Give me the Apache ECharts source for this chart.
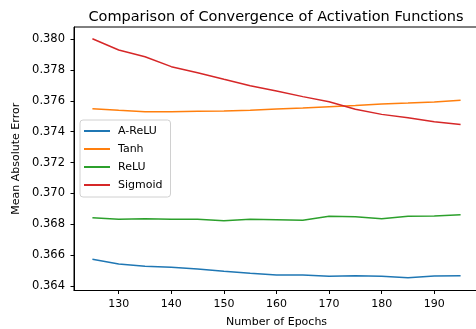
<!DOCTYPE html>
<html>
<head>
<meta charset="utf-8">
<script src="https://cdn.jsdelivr.net/npm/echarts@6/dist/echarts.min.js"></script>
<style>
  html, body { margin: 0; padding: 0; background: #fff; }
  #main { width: 476px; height: 329px; }
</style>
</head>
<body>
<div id="main"></div>
<script>
// epochs on the x axis
var epochs = [125, 130, 135, 140, 145, 150, 155, 160, 165, 170, 175, 180, 185, 190, 195];
// mean absolute error per activation
var aRelu = [0.36573, 0.36543, 0.36528, 0.36521, 0.36510, 0.36495, 0.36482, 0.36472, 0.36471, 0.36463, 0.36467, 0.36463, 0.36454, 0.36465, 0.36467];
var tanh = [0.37549, 0.37538, 0.37529, 0.37529, 0.37532, 0.37534, 0.37539, 0.37547, 0.37554, 0.37562, 0.37570, 0.37579, 0.37585, 0.37592, 0.37603];
var relu = [0.36843, 0.36832, 0.36836, 0.36832, 0.36832, 0.36823, 0.36832, 0.36830, 0.36826, 0.36852, 0.36848, 0.36836, 0.36852, 0.36854, 0.36862];
var sigmoid = [0.38002, 0.37929, 0.37885, 0.37821, 0.37782, 0.37739, 0.37698, 0.37663, 0.37627, 0.37594, 0.37545, 0.37512, 0.37490, 0.37464, 0.37447];
var names = ['A-ReLU', 'Tanh', 'ReLU', 'Sigmoid'];
var colors = ['#1f77b4', '#ff7f0e', '#2ca02c', '#d62728'];
var xTicks = [130, 140, 150, 160, 170, 180, 190];
var yTicks = [0.364, 0.366, 0.368, 0.370, 0.372, 0.374, 0.376, 0.378, 0.380];

function pairs(vals) {
  return vals.map(function (v, i) { return [epochs[i], v]; });
}

var font = 'DejaVu Sans';
var chart = echarts.init(document.getElementById('main'));
chart.setOption({
  animation: false,
  color: colors,
  textStyle: { fontFamily: font },
  title: {
    text: 'Comparison of Convergence of Activation Functions',
    left: 271, top: 5,
    textAlign: 'center',
    textStyle: { fontFamily: font, fontSize: 14.5, fontWeight: 'normal', color: '#000' }
  },
  grid: {
    left: 74, top: 27, width: 405, height: 263.5,
    outerBoundsMode: 'none',
    containLabel: false,
    show: true, borderColor: '#000', borderWidth: 1
  },
  legend: {
    data: names,
    orient: 'vertical',
    left: 80, top: 120,
    icon: 'rect',
    itemWidth: 26, itemHeight: 2,
    itemGap: 6,
    padding: [5, 8, 6, 4],
    borderColor: '#d0d0d0', borderWidth: 1, borderRadius: 3,
    backgroundColor: 'rgba(255,255,255,0.8)',
    textStyle: { fontFamily: font, fontSize: 11, color: '#000', lineHeight: 12, padding: [0, 0, 0, 3] }
  },
  xAxis: {
    type: 'value',
    min: 121.5, max: 198.5,
    name: 'Number of Epochs',
    nameLocation: 'middle', nameGap: 26,
    nameTextStyle: { fontFamily: font, fontSize: 11, color: '#000' },
    axisLine: { lineStyle: { color: '#000', width: 1 } },
    axisTick: { show: true, length: 3.5, lineStyle: { color: '#000' }, customValues: xTicks },
    axisLabel: { fontFamily: font, fontSize: 11, color: '#000', margin: 8, customValues: xTicks },
    splitLine: { show: false }
  },
  yAxis: {
    type: 'value',
    min: 0.36371, max: 0.38078,
    name: 'Mean Absolute Error',
    nameLocation: 'middle', nameGap: 51,
    nameTextStyle: { fontFamily: font, fontSize: 11, color: '#000' },
    axisLine: { show: true, lineStyle: { color: '#000', width: 1 } },
    axisTick: { show: true, length: 3.5, lineStyle: { color: '#000' }, customValues: yTicks },
    axisLabel: {
      fontFamily: font, fontSize: 11.5, color: '#000', margin: 9, customValues: yTicks,
      formatter: function (v) { return v.toFixed(3); }
    },
    splitLine: { show: false }
  },
  series: [
    { name: names[0], type: 'line', data: pairs(aRelu), showSymbol: false, lineStyle: { width: 1.5 } },
    { name: names[1], type: 'line', data: pairs(tanh), showSymbol: false, lineStyle: { width: 1.5 } },
    { name: names[2], type: 'line', data: pairs(relu), showSymbol: false, lineStyle: { width: 1.5 } },
    { name: names[3], type: 'line', data: pairs(sigmoid), showSymbol: false, lineStyle: { width: 1.5 } }
  ]
});
</script>
</body>
</html>
